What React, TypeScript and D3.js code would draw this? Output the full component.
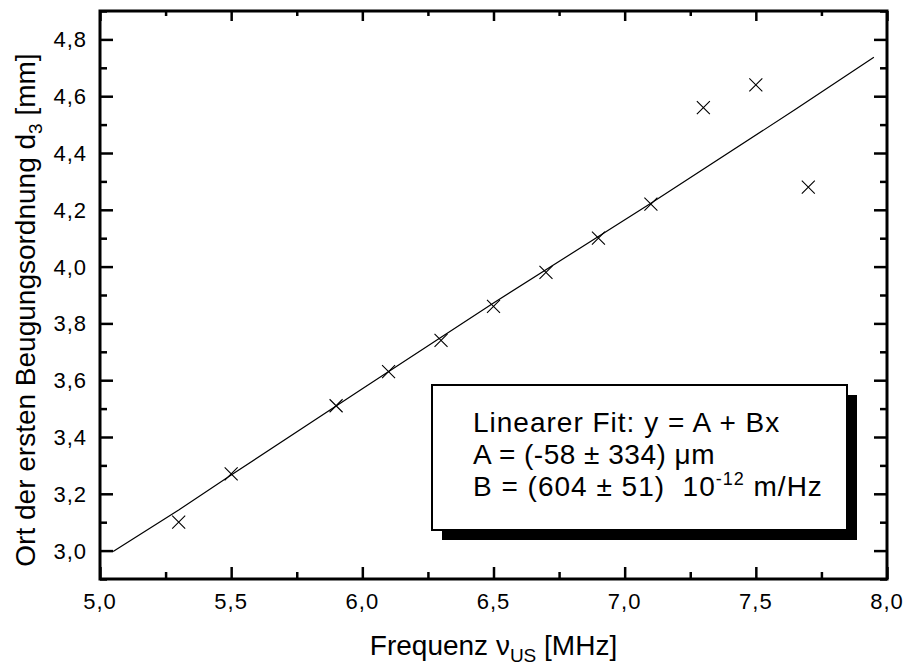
import React, { useEffect, useRef } from 'react';
import * as d3 from 'd3';

// measured values (frequency in MHz, position in mm)
const freq = [5.3, 5.5, 5.9, 6.1, 6.3, 6.5, 6.7, 6.9, 7.1, 7.3, 7.5, 7.7];
const pos = [3.10, 3.27, 3.51, 3.63, 3.74, 3.86, 3.98, 4.10, 4.22, 4.56, 4.64, 4.28];

// fit line as drawn
const fitX = [5.05, 5.3, 5.5, 6.0, 6.5, 7.1, 7.65, 7.95];
const fitY = [2.997, 3.143, 3.266, 3.57, 3.872, 4.223, 4.553, 4.737];

const xTicks = [5.0, 5.5, 6.0, 6.5, 7.0, 7.5, 8.0];
const yTicks = [3.0, 3.2, 3.4, 3.6, 3.8, 4.0, 4.2, 4.4, 4.6, 4.8];

const fmt = (v: number) => v.toFixed(1).replace('.', ',');

export default function App() {
  const ref = useRef<SVGSVGElement>(null);

  useEffect(() => {
    const width = 909;
    const height = 666;
    const margin = { top: 11, right: 22, bottom: 87, left: 100 };
    const w = width - margin.left - margin.right;
    const h = height - margin.top - margin.bottom;
    const font = 'Arial, "Liberation Sans", sans-serif';

    const svg = d3.select(ref.current);
    svg.selectAll('*').remove();

    const x = d3.scaleLinear().domain([5.0, 8.0]).range([0, w]);
    const y = d3.scaleLinear().domain([2.9, 4.9]).range([h, 0]);

    const g = svg.append('g').attr('transform', `translate(${margin.left},${margin.top})`);

    const xMinor = d3.range(5.25, 8.0, 0.5);
    const yMinor = d3.range(2.9, 4.95, 0.2).map(v => +v.toFixed(1));

    const tickStyle = (sel: any) => {
      sel.select('.domain').remove();
      sel.selectAll('line').attr('stroke', '#000').attr('stroke-width', 2.5);
      sel.selectAll('text').remove();
    };

    // bottom and top ticks (inward)
    g.append('g').attr('transform', `translate(0,${h})`)
      .call(d3.axisBottom(x).tickValues(xTicks).tickSize(-12)).call(tickStyle);
    g.append('g').attr('transform', `translate(0,${h})`)
      .call(d3.axisBottom(x).tickValues(xMinor).tickSize(-7)).call(tickStyle);
    g.append('g')
      .call(d3.axisTop(x).tickValues(xTicks).tickSize(-10)).call(tickStyle);
    g.append('g')
      .call(d3.axisTop(x).tickValues(xMinor).tickSize(-5)).call(tickStyle);

    // left and right ticks (inward)
    g.append('g')
      .call(d3.axisLeft(y).tickValues(yTicks).tickSize(-13)).call(tickStyle);
    g.append('g')
      .call(d3.axisLeft(y).tickValues(yMinor).tickSize(-7)).call(tickStyle);
    g.append('g').attr('transform', `translate(${w},0)`)
      .call(d3.axisRight(y).tickValues(yTicks).tickSize(-13)).call(tickStyle);
    g.append('g').attr('transform', `translate(${w},0)`)
      .call(d3.axisRight(y).tickValues(yMinor).tickSize(-7)).call(tickStyle);

    // frame
    g.append('rect')
      .attr('x', 0).attr('y', 0).attr('width', w).attr('height', h)
      .attr('fill', 'none').attr('stroke', '#000').attr('stroke-width', 3);

    // tick labels
    g.append('g').selectAll('text').data(xTicks).join('text')
      .attr('x', d => x(d)).attr('y', h + 30)
      .attr('text-anchor', 'middle')
      .attr('font-family', font).attr('font-size', 22).attr('letter-spacing', 1)
      .text(d => fmt(d));
    g.append('g').selectAll('text').data(yTicks).join('text')
      .attr('x', -13).attr('y', d => y(d) + 8)
      .attr('text-anchor', 'end')
      .attr('font-family', font).attr('font-size', 22).attr('letter-spacing', 1)
      .text(d => fmt(d));

    // fit line
    const fitData = fitX.map((v, i) => [v, fitY[i]] as [number, number]);
    g.append('path').datum(fitData)
      .attr('fill', 'none').attr('stroke', '#000').attr('stroke-width', 1.2)
      .attr('d', d3.line().x(d => x(d[0])).y(d => y(d[1])));

    // X markers
    const s = 6.5;
    const pts = freq.map((v, i) => [v, pos[i]] as [number, number]);
    g.append('g').selectAll('path').data(pts).join('path')
      .attr('fill', 'none').attr('stroke', '#000').attr('stroke-width', 1.1)
      .attr('d', d => {
        const px = x(d[0]), py = y(d[1]);
        return `M${px - s},${py - s}L${px + s},${py + s}M${px - s},${py + s}L${px + s},${py - s}`;
      });

    // legend box with shadow
    const bx = 332, by = 374, bw = 415, bh = 145;
    g.append('rect').attr('x', bx + 10).attr('y', by + 10).attr('width', bw).attr('height', bh)
      .attr('fill', '#000');
    g.append('rect').attr('x', bx).attr('y', by).attr('width', bw).attr('height', bh)
      .attr('fill', '#fff').attr('stroke', '#000').attr('stroke-width', 2);

    const lt = g.append('g').attr('font-family', font).attr('font-size', 28);
    lt.append('text').attr('x', bx + 41).attr('y', by + 47).attr('letter-spacing', 1)
      .text('Linearer Fit: y = A + Bx');
    lt.append('text').attr('x', bx + 41).attr('y', by + 79).attr('letter-spacing', 0.5)
      .text('A = (-58 ± 334) μm');
    const t3 = lt.append('text').attr('x', bx + 41).attr('y', by + 111).attr('letter-spacing', 1);
    t3.append('tspan').text('B = (604 ± 51)\u00A0 10');
    t3.append('tspan').attr('dy', -11).attr('font-size', 18).text('-12');
    t3.append('tspan').attr('dy', 11).text('\u00A0m/Hz');

    // axis titles
    const xt = svg.append('text')
      .attr('x', margin.left + w / 2).attr('y', 655)
      .attr('text-anchor', 'middle')
      .attr('font-family', font).attr('font-size', 28);
    xt.append('tspan').text('Frequenz ν');
    xt.append('tspan').attr('dy', 7).attr('font-size', 19).text('US');
    xt.append('tspan').attr('dy', -7).text(' [MHz]');

    const yt = svg.append('text')
      .attr('transform', `translate(35,310) rotate(-90)`)
      .attr('text-anchor', 'middle')
      .attr('font-family', font).attr('font-size', 28);
    yt.append('tspan').text('Ort der ersten Beugungsordnung d');
    yt.append('tspan').attr('dy', 7).attr('font-size', 19).text('3');
    yt.append('tspan').attr('dy', -7).text(' [mm]');
  }, []);

  return (
    <svg ref={ref} width={909} height={666}
      style={{ position: 'absolute', left: 0, top: 0, background: '#fff' }} />
  );
}
